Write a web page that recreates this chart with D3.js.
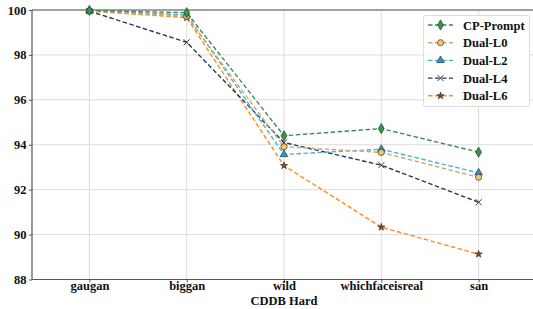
<!DOCTYPE html>
<html><head><meta charset="utf-8">
<script src="https://cdn.jsdelivr.net/npm/d3@7"></script>
<style>body{margin:0;background:#fff}svg{display:block}</style>
</head><body><svg id="c" width="533" height="309"></svg>
<script>
const categories = ["gaugan","biggan","wild","whichfaceisreal","san"];
const seriesNames = ["CP-Prompt","Dual-L0","Dual-L2","Dual-L4","Dual-L6"];
const cpPrompt = [99.98, 99.88, 94.4, 94.72, 93.67];
const dualL0 = [99.96, 99.72, 93.91, 93.66, 92.55];
const dualL2 = [99.97, 99.78, 93.57, 93.8, 92.75];
const dualL4 = [99.95, 98.56, 94.1, 93.09, 91.44];
const dualL6 = [99.95, 99.66, 93.07, 90.33, 89.13];
const yTicks = [88, 90, 92, 94, 96, 98, 100];
const xTitle = "CDDB Hard";

const FONT = "Liberation Serif";
const seriesValues = [cpPrompt, dualL0, dualL2, dualL4, dualL6];
const styles = [
  {line:"#3b8a52", fill:"#2e9a4c", sym:d3.symbolDiamond, size:30},
  {line:"#c9a872", fill:"#f6c26a", sym:d3.symbolCircle, size:30},
  {line:"#45b3d6", fill:"#2a9cc2", sym:d3.symbolTriangle, size:26},
  {line:"#1f3d5a", fill:"none", sym:"x", size:30},
  {line:"#ff8c1e", fill:"#8a4a10", sym:d3.symbolStar, size:16}
];

const svg = d3.select("#c");
const L = 32, R = 536, T = 10, B = 279.5;
const x = d3.scalePoint().domain(categories).range([L, R]).padding(0.59);
const y = d3.scaleLinear().domain([88, 100]).range([B, T]);

function styleText(sel) {
  sel.attr("font-family", FONT).attr("font-weight", "bold").attr("font-size", 12.5)
     .style("font-family", FONT).style("font-weight", "bold").style("font-size", "12.5px").attr("fill", "#111");
}

// grid
svg.append("g").selectAll("line").data(yTicks).join("line")
  .attr("x1", L).attr("x2", R).attr("y1", d=>y(d)).attr("y2", d=>y(d))
  .attr("stroke", "#dcdcdc").attr("stroke-width", 1);
svg.append("g").selectAll("line").data(categories).join("line")
  .attr("x1", d=>x(d)).attr("x2", d=>x(d)).attr("y1", T).attr("y2", B)
  .attr("stroke", "#dcdcdc").attr("stroke-width", 1);

// axes
const ya = svg.append("g").attr("transform", `translate(${L},0)`)
  .call(d3.axisLeft(y).tickValues(yTicks).tickSize(3).tickPadding(2.5));
const xa = svg.append("g").attr("transform", `translate(0,${B})`)
  .call(d3.axisBottom(x).tickSize(3).tickPadding(0));
[ya, xa].forEach(g => {
  g.attr("font-family", FONT);
  g.select(".domain").remove();
  g.selectAll("line").attr("stroke", "#555");
  styleText(g.selectAll("text"));
});
xa.selectAll("text").attr("dy", "0.62em");
svg.append("line").attr("x1", L).attr("x2", L).attr("y1", T).attr("y2", B).attr("stroke", "#555").attr("stroke-width", 1.2);
svg.append("line").attr("x1", L).attr("x2", R).attr("y1", B).attr("y2", B).attr("stroke", "#555").attr("stroke-width", 1.2);
svg.append("line").attr("x1", L).attr("x2", R).attr("y1", T).attr("y2", T).attr("stroke", "#555").attr("stroke-width", 1.2);

styleText(svg.append("text").attr("x", x("wild")).attr("y", 304.5).attr("text-anchor", "middle").text(xTitle));

function marker(g, st) {
  if (st.sym === "x") {
    const s = 3;
    g.append("path").attr("d", `M${-s},${-s}L${s},${s}M${-s},${s}L${s},${-s}`)
      .attr("stroke", "#333").attr("stroke-width", 1).attr("fill", "none");
  } else {
    g.append("path").attr("d", d3.symbol().type(st.sym).size(st.size)())
      .attr("fill", st.fill).attr("stroke", "#222").attr("stroke-width", 0.6);
  }
}

const line = d3.line().x((d,i)=>x(categories[i])).y(d=>y(d));
for (let k = seriesValues.length - 1; k >= 0; k--) {
  const st = styles[k];
  svg.append("path").datum(seriesValues[k]).attr("d", line)
    .attr("fill", "none").attr("stroke", st.line).attr("stroke-width", 1.4)
    .attr("stroke-dasharray", "4.5,2.5");
  seriesValues[k].forEach((v, i) => {
    marker(svg.append("g").attr("transform", `translate(${x(categories[i])},${y(v)})`), st);
  });
}

// legend
const lg = svg.append("g");
lg.append("rect").attr("x", 423.5).attr("y", 15.5).attr("width", 106).attr("height", 91)
  .attr("rx", 2).attr("fill", "#fff").attr("fill-opacity", 0.9).attr("stroke", "#ddd");
seriesNames.forEach((n, k) => {
  const yy = 25 + k * 17.7;
  const st = styles[k];
  lg.append("line").attr("x1", 428).attr("x2", 453).attr("y1", yy).attr("y2", yy)
    .attr("stroke", st.line).attr("stroke-width", 1.4).attr("stroke-dasharray", "4.5,2.5");
  marker(lg.append("g").attr("transform", `translate(440.5,${yy})`), st);
  styleText(lg.append("text").attr("x", 463).attr("y", yy + 4.5).text(n));
});
</script></body></html>
